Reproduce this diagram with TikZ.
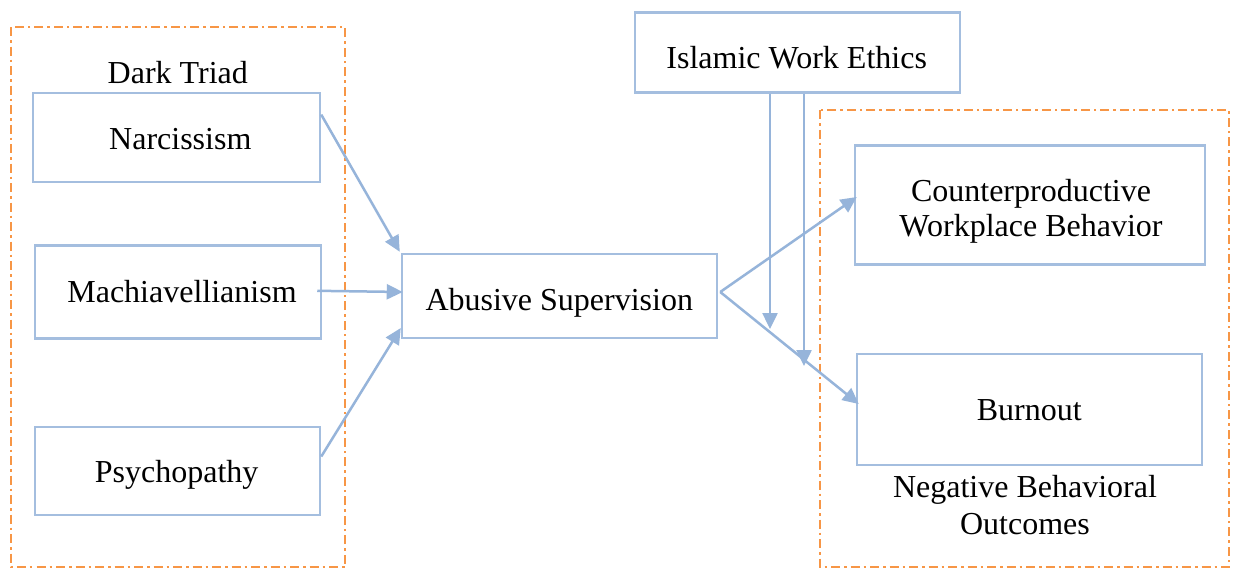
\documentclass[tikz,border=0pt]{standalone}
\usepackage{fontspec}
\setmainfont{Liberation Serif}
\usetikzlibrary{arrows.meta,calc}
\definecolor{boxblue}{RGB}{164,190,223}
\definecolor{arrowblue}{RGB}{150,180,218}
\definecolor{dashorange}{RGB}{247,150,70}
\begin{document}
\begin{tikzpicture}[x=1pt,y=-1pt,
  txt/.style={font=\fontsize{32}{35}\selectfont, align=center, inner sep=0pt},
  lbl/.style={txt, text height=22pt, text depth=0pt},
  bluebox/.style={draw=boxblue, line width=2.5pt, inner sep=0pt},
  conn/.style={draw=arrowblue, line width=2.5pt, -{Triangle[length=16pt,width=15pt]}},
  group/.style={draw=dashorange, line width=2.6pt, dash pattern=on 9pt off 4pt on 2.5pt off 4pt}]
\useasboundingbox (0,0) rectangle (1236,570);
\fill[white] (0,0) rectangle (1236,570);
% groups
\draw[group] (11,27) rectangle (345,567);
\draw[group] (820,110) rectangle (1229,567);
% nodes
\node[bluebox, minimum width=287pt, minimum height=89pt,
  label={[lbl,xshift=3.8pt,yshift=-0.8pt]center:Narcissism}] (narc) at (176.5,137.5) {};
\node[bluebox, minimum width=286pt, minimum height=93pt,
  label={[lbl,xshift=4pt,yshift=0.1pt]center:Machiavellianism}] (mach) at (178,291.8) {};
\node[bluebox, minimum width=285pt, minimum height=88pt,
  label={[lbl,xshift=-0.8pt,yshift=-0.7pt]center:Psychopathy}] (psych) at (177.5,471) {};
\node[bluebox, minimum width=315pt, minimum height=84pt,
  label={[lbl,xshift=-0.2pt,yshift=-3pt]center:Abusive Supervision}] (abus) at (559.5,296) {};
\node[bluebox, minimum width=325pt, minimum height=80pt,
  label={[lbl,xshift=-0.8pt,yshift=-4.8pt]center:Islamic Work Ethics}] (iwe) at (797.5,52.5) {};
\node[bluebox, minimum width=350pt, minimum height=119pt,
  label={[txt,xshift=1pt,yshift=-6.7pt]center:Counterproductive\\Workplace Behavior}] (cwb) at (1030,205) {};
\node[bluebox, minimum width=345pt, minimum height=111pt,
  label={[lbl,xshift=-0.3pt,yshift=-0.2pt]center:Burnout}] (burn) at (1029.5,409.5) {};
\node[txt, anchor=base] (dt) at (177.8,83.3) {Dark Triad};
\node[txt, font=\fontsize{32}{36.7}\selectfont] (nbo) at (1025,504.9) {Negative Behavioral\\Outcomes};
% connectors
\draw[conn] ($(narc.north east)!0.25!(narc.south east)$) -- ([xshift=-1pt,yshift=1pt]abus.north west);
\draw[conn] ([xshift=-5pt,yshift=1pt]mach.east) -- ([xshift=2pt]abus.west |- {0,292});
\draw[conn] ($(psych.north east)!0.34!(psych.south east)$) -- ($(abus.north west)!0.87!(abus.south west)$);
\draw[conn] ([xshift=2pt,yshift=4pt]abus.east) -- ([xshift=3pt,yshift=8pt]cwb.west);
\draw[conn] ([xshift=2pt,yshift=4pt]abus.east) -- ([xshift=3pt,yshift=5.5pt]burn.west);
\coordinate (m1) at (770,329);
\coordinate (m2) at (804,366);
\draw[conn] (iwe.south -| m1) -- (m1);
\draw[conn] (iwe.south -| m2) -- (m2);
\end{tikzpicture}
\end{document}
